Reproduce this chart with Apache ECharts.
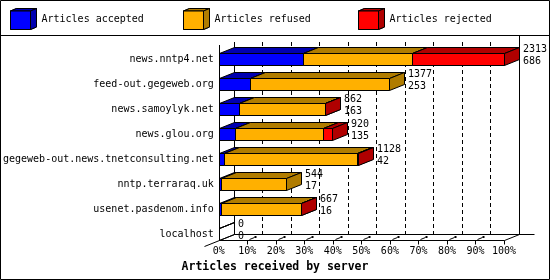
<!DOCTYPE html>
<html><head><meta charset="utf-8">
<script src="https://cdn.jsdelivr.net/npm/echarts@6/dist/echarts.min.js"></script>
<style>html,body{margin:0;padding:0;background:#fff}#c{width:550px;height:280px}</style>
</head><body><div id="c"></div>
<script>
const servers = ['news.nntp4.net','feed-out.gegeweb.org','news.samoylyk.net','news.glou.org','gegeweb-out.news.tnetconsulting.net','nntp.terraraq.uk','usenet.pasdenom.info','localhost'];
const totals   = [2313, 1377, 862, 920, 1128, 544, 667, 0];
const accepted = [686, 253, 163, 135, 42, 17, 16, 0];
const refused  = [880, 1124, 695, 714, 1083, 527, 649, 0];
const rejected = [747, 0, 4, 71, 3, 0, 2, 0];
const seriesNames = ['Articles accepted','Articles refused','Articles rejected'];
const xTicks = [0,10,20,30,40,50,60,70,80,90,100];
const xTitle = 'Articles received by server';

const FONT = '"DejaVu Sans Mono", "Liberation Mono", monospace';
const FRONT = ['#0000ff', '#ffb000', '#ff0000'];
const DARK  = ['#0000b0', '#b07c00', '#b00000'];
const DX = 15, DY = -6, HH = 6;
const maxTotal = Math.max.apply(null, totals);
const pct = v => v / maxTotal * 100;
const px = v => Math.round(v) + 0.5;

const parts = [accepted, refused, rejected];
function segData(k) {
  return servers.map((s, i) => {
    let start = 0;
    for (let j = 0; j < k; j++) start += parts[j][i];
    return [pct(start), pct(start + parts[k][i]), i, parts[k][i]];
  });
}

function makeBar(k) {
  return function (params, api) {
    const s = api.value(0), e = api.value(1), c = api.value(2), raw = api.value(3);
    let outline = false;
    if (raw === 0) {
      if (k === 0 && totals[c] === 0) outline = true; else return null;
    }
    const p0 = api.coord([s, c]), p1 = api.coord([e, c]);
    const x0 = px(p0[0]), x1 = px(p1[0]);
    const cy = Math.round(p0[1]);
    const yt = cy - HH + 0.5, yb = cy + HH + 0.5;
    const st = f => ({ fill: outline ? 'none' : f, stroke: '#000', lineWidth: 1 });
    return {
      type: 'group',
      children: [
        { type: 'rect', shape: { x: x0, y: yt, width: x1 - x0, height: yb - yt }, style: st(FRONT[k]) },
        { type: 'polygon', shape: { points: [[x0, yt], [x0 + DX, yt + DY], [x1 + DX, yt + DY], [x1, yt]] }, style: st(DARK[k]) },
        { type: 'polygon', shape: { points: [[x1, yt], [x1 + DX, yt + DY], [x1 + DX, yb + DY], [x1, yb]] }, style: st(DARK[k]) }
      ]
    };
  };
}

function renderFrame(params, api) {
  const X = v => api.coord([v, 0])[0];
  const cy0 = Math.round(api.coord([0, 0])[1]);
  const yF = Math.round(api.coord([0, servers.length - 1])[1]) + HH + 0.5;
  const yB = yF + DY;
  const x0 = px(X(0)), x100 = px(X(100));
  const ch = [];
  const line = (a, b, c, d, extra) => ch.push(Object.assign({ type: 'line', shape: { x1: a, y1: b, x2: c, y2: d }, style: { stroke: '#000', lineWidth: 1 } }, extra || {}));
  // back wall
  line(x0 + DX, cy0 - 17, x0 + DX, yB);
  xTicks.forEach(v => {
    if (v > 0 && v < 100) {
      const xb = px(X(v)) + DX;
      ch.push({ type: 'line', shape: { x1: xb, y1: cy0 - 17, x2: xb, y2: yB }, style: { stroke: '#000', lineWidth: 1, lineDash: [4, 3] } });
    }
  });
  line(x100 + DX, 35, x100 + DX, yB);
  // floor
  line(x0 + DX, yB, x100 + 2 * DX, yB);
  line(x0, yF, x100, yF);
  line(x0 - DX, yF - DY, x0 + DX, yB);
  line(x100, yF, x100 + DX, yB);
  // front left edge
  line(x0, cy0 - 14, x0, yF);
  // ticks
  xTicks.forEach(v => {
    if (v === 0) return;
    const xf = px(X(v));
    line(xf, yF, xf, yF + 4);
    if (v < 100) {
      line(xf + 2, yF - 1, xf + 7, yF - 3);
      ch.push({ type: 'rect', shape: { x: xf + 7, y: yF - 4.5, width: 2, height: 2 }, style: { fill: '#000' } });
    }
  });
  return { type: 'group', children: ch };
}

function renderLabels(params, api) {
  const c = api.value(1);
  const p = api.coord([api.value(0), c]);
  const x = Math.round(p[0]) + DX + 4;
  const cy = Math.round(p[1]);
  const ts = t => ({ text: String(t), fill: '#000', font: '10px ' + FONT, textAlign: 'left', textVerticalAlign: 'middle' });
  return {
    type: 'group',
    children: [
      { type: 'text', x: x, y: cy - 9.5, style: ts(api.value(2)) },
      { type: 'text', x: x, y: cy + 2, style: ts(api.value(3)) }
    ]
  };
}

const legendLefts = [10, 183, 358];
const cubePath = 'path://M0,2.5L20,2.5L20,21L0,21ZM0,2.5L6,0L26,0L20,2.5ZM20,2.5L26,0L26,18.5L20,21Z';

const graphics = [
  { type: 'rect', shape: { x: 0.5, y: 0.5, width: 549, height: 279 }, style: { fill: 'none', stroke: '#000', lineWidth: 1 }, z: 50 },
  { type: 'line', shape: { x1: 0, y1: 35.5, x2: 550, y2: 35.5 }, style: { stroke: '#000', lineWidth: 1 }, z: 50 }
];
legendLefts.forEach((l, k) => {
  const o = (a, b) => [l + a + 0.5, 8 + b + 0.5];
  graphics.push({ type: 'polygon', z: 100, shape: { points: [o(0, 2.5), o(6, 0), o(26, 0), o(20, 2.5)] }, style: { fill: DARK[k], stroke: '#000', lineWidth: 1 } });
  graphics.push({ type: 'polygon', z: 100, shape: { points: [o(20, 2.5), o(26, 0), o(26, 18.5), o(20, 21)] }, style: { fill: DARK[k], stroke: '#000', lineWidth: 1 } });
  graphics.push({ type: 'rect', z: 100, shape: { x: l + 0.5, y: 8 + 3, width: 20, height: 18.5 }, style: { fill: FRONT[k], stroke: '#000', lineWidth: 1 } });
});

const chart = echarts.init(document.getElementById('c'), null, { renderer: 'canvas' });
chart.setOption({
  animation: false,
  backgroundColor: '#fff',
  title: { text: xTitle, left: 'center', top: 261, padding: 0, textStyle: { fontFamily: FONT, fontWeight: 'bold', fontSize: 11.5, color: '#000' } },
  legend: legendLefts.map((l, k) => ({
    data: [seriesNames[k]], left: l, top: 8, padding: 0, selectedMode: false,
    icon: cubePath, itemWidth: 26, itemHeight: 21,
    itemStyle: { borderColor: '#000', borderWidth: 1 },
    textStyle: { fontFamily: FONT, fontSize: 10, color: '#000' }
  })),
  grid: { left: 218, width: 286, top: 46.5, height: 200 },
  xAxis: {
    type: 'value', min: 0, max: 100, interval: 10,
    axisLine: { show: false }, axisTick: { show: false }, splitLine: { show: false },
    axisLabel: { formatter: '{value}%', fontFamily: FONT, fontSize: 10, color: '#000', margin: 0 }
  },
  yAxis: {
    type: 'category', inverse: true, data: servers,
    axisLine: { show: false }, axisTick: { show: false },
    axisLabel: { fontFamily: FONT, fontSize: 10, color: '#000', margin: 5 }
  },
  graphic: graphics,
  series: [
    { type: 'custom', name: 'frame', data: [[0, 0]], encode: { x: 0, y: 1 }, renderItem: renderFrame, clip: false, silent: true },
    { type: 'custom', name: seriesNames[0], data: segData(0), encode: { x: [0, 1], y: 2 }, renderItem: makeBar(0), itemStyle: { color: FRONT[0] }, clip: false },
    { type: 'custom', name: seriesNames[1], data: segData(1), encode: { x: [0, 1], y: 2 }, renderItem: makeBar(1), itemStyle: { color: FRONT[1] }, clip: false },
    { type: 'custom', name: seriesNames[2], data: segData(2), encode: { x: [0, 1], y: 2 }, renderItem: makeBar(2), itemStyle: { color: FRONT[2] }, clip: false },
    { type: 'custom', name: 'labels', data: servers.map((s, i) => [pct(totals[i]), i, totals[i], accepted[i]]), encode: { x: 0, y: 1 }, renderItem: renderLabels, clip: false, silent: true }
  ]
});
</script></body></html>
